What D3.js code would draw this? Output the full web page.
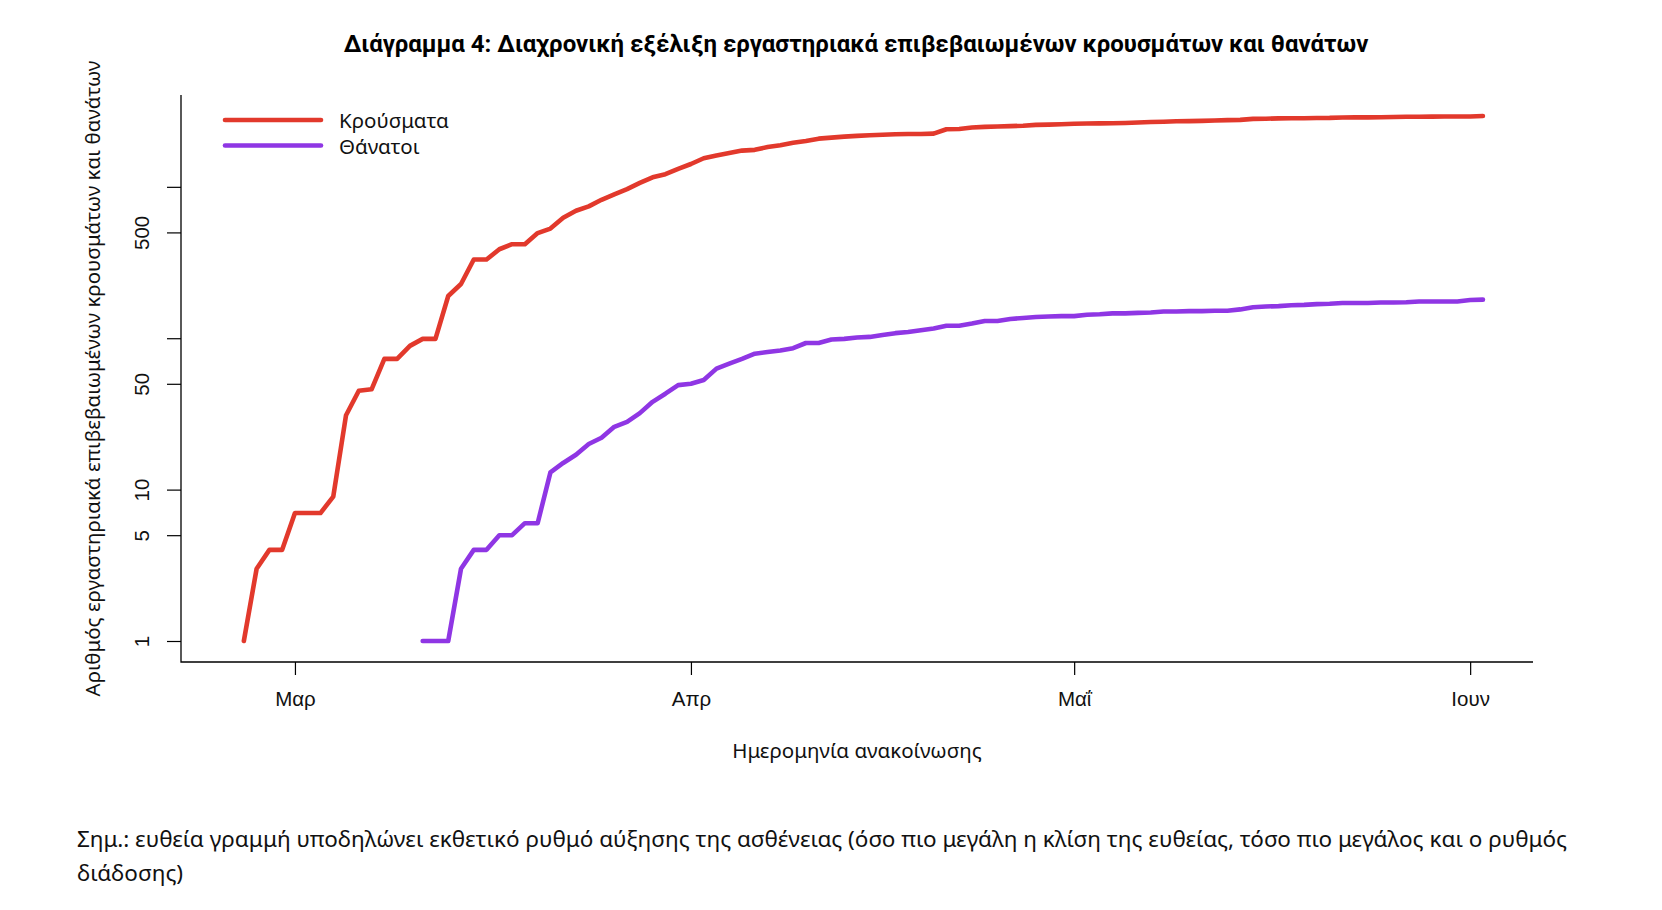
<!DOCTYPE html>
<html lang="el">
<head>
  <meta charset="UTF-8">
  <title>Διάγραμμα 4</title>
  <style>
    html, body {
      margin: 0;
      padding: 0;
      background: #fff;
      overflow: hidden;
    }
    svg {
      display: block;
      font-family: 'Noto Sans', sans-serif;
    }
    .title {
      font-family: Roboto, 'Noto Sans', sans-serif;
      font-weight: bold;
      font-size: 24px;
    }
    .lbl { font-size: 20.5px; fill: #111; }
    .axis path, .axis line { stroke: #000; stroke-width: 1.2; }
  </style>
</head>
<body>
  <svg id="chart" width="1662" height="910"></svg>

  <script src="https://cdn.jsdelivr.net/npm/d3@7"></script>
  <script>
    // daily announcements, starting 25 Feb 2020 (first day has 0 cases)
    const startDate = "2020-02-25";

    const cases = [
      0, 1, 3, 4, 4,
      // Mar
      7, 7, 7, 9, 31, 45, 46, 73, 73, 89, 99, 99, 190, 228, 331, 331,
      387, 418, 418, 495, 530, 624, 695, 743, 821, 892, 966, 1061, 1156, 1212, 1314,
      // Apr
      1415, 1544, 1613, 1673, 1735, 1755, 1832, 1884, 1955, 2011, 2081, 2114, 2145, 2170, 2192,
      2207, 2224, 2235, 2235, 2245, 2401, 2408, 2463, 2490, 2506, 2517, 2534, 2566, 2576, 2591,
      // May
      2612, 2620, 2626, 2632, 2642, 2663, 2678, 2691, 2710, 2716, 2726, 2744, 2760, 2770, 2810, 2819,
      2834, 2836, 2840, 2850, 2853, 2873, 2876, 2878, 2882, 2892, 2903, 2906, 2909, 2915, 2917,
      // Jun
      2918, 2937
    ];

    const deaths = [
      0, 0, 0, 0, 0,
      // Mar
      0, 0, 0, 0, 0, 0, 0, 0, 0, 0, 1, 1, 1, 3, 4, 4,
      5, 5, 6, 6, 13, 15, 17, 20, 22, 26, 28, 32, 38, 43, 49,
      // Apr
      50, 53, 63, 68, 73, 79, 81, 83, 86, 93, 93, 98, 99, 101, 102,
      105, 108, 110, 113, 116, 121, 121, 125, 130, 130, 134, 136, 138, 139, 140,
      // May
      140, 143, 144, 146, 146, 147, 148, 150, 150, 151, 151, 152, 152, 155, 160, 162,
      163, 165, 166, 168, 169, 171, 171, 171, 172, 172, 173, 175, 175, 175, 175,
      // Jun
      179, 180
    ];

    const seriesNames = ["Κρούσματα", "Θάνατοι"];
    const seriesColors = ["#e2392c", "#8f36e4"];

    const monthTicks = ["2020-03-01", "2020-04-01", "2020-05-01", "2020-06-01"];
    const monthLabels = ["Μαρ", "Απρ", "Μαΐ", "Ιουν"];
    const yTicks = [1, 5, 10, 50, 100, 500, 1000];
    const yLabelled = [1, 5, 10, 50, 500];

    const titleText = "Διάγραμμα 4: Διαχρονική εξέλιξη εργαστηριακά επιβεβαιωμένων κρουσμάτων και θανάτων";
    const xTitle = "Ημερομηνία ανακοίνωσης";
    const yTitle = "Αριθμός εργαστηριακά επιβεβαιωμένων κρουσμάτων και θανάτων";
    const note = [
      "Σημ.: ευθεία γραμμή υποδηλώνει εκθετικό ρυθμό αύξησης της ασθένειας (όσο πιο μεγάλη η κλίση της ευθείας, τόσο πιο μεγάλος και ο ρυθμός",
      "διάδοσης)"
    ];

    const W = 1662, H = 910;
    const margin = { top: 95, right: 129, bottom: 248, left: 181 };

    const parse = d3.timeParse("%Y-%m-%d");
    const t0 = parse(startDate);
    const dates = cases.map((_, i) => d3.timeDay.offset(t0, i));

    const svg = d3.select("#chart");

    // R style 4% padding on each side
    const tExt = d3.extent(dates);
    const tPad = (tExt[1] - tExt[0]) * 0.04;
    const x = d3.scaleTime()
      .domain([new Date(+tExt[0] - tPad), new Date(+tExt[1] + tPad)])
      .range([margin.left, W - margin.right]);

    const lmin = 0, lmax = Math.log10(d3.max(cases));
    const lpad = (lmax - lmin) * 0.04;
    const y = d3.scaleLog()
      .domain([Math.pow(10, lmin - lpad), Math.pow(10, lmax + lpad)])
      .range([H - margin.bottom, margin.top]);

    // box (L shape)
    svg.append("path")
      .attr("d", `M${margin.left},${margin.top}V${H - margin.bottom}H${W - margin.right}`)
      .attr("fill", "none")
      .attr("stroke", "#000")
      .attr("stroke-width", 1.3);

    // x axis
    const xAxis = svg.append("g")
      .attr("class", "axis")
      .attr("transform", `translate(0,${H - margin.bottom})`)
      .call(d3.axisBottom(x)
        .tickValues(monthTicks.map(parse))
        .tickSize(13)
        .tickFormat((d, i) => monthLabels[i]));
    xAxis.select(".domain").remove();
    xAxis.selectAll("text")
      .attr("class", "lbl")
      .attr("y", 37)
      .attr("dy", "0.35em");

    // y axis, labels rotated like R
    const yAxis = svg.append("g")
      .attr("class", "axis")
      .attr("transform", `translate(${margin.left},0)`)
      .call(d3.axisLeft(y)
        .tickValues(yTicks)
        .tickSize(14)
        .tickFormat(d => yLabelled.includes(d) ? d : ""));
    yAxis.select(".domain").remove();
    yAxis.selectAll("text")
      .attr("class", "lbl")
      .attr("x", null)
      .attr("dy", null)
      .attr("text-anchor", "middle")
      .attr("dominant-baseline", "central")
      .attr("transform", "translate(-40,0) rotate(-90)");

    // lines
    const series = [cases, deaths];
    const line = d3.line()
      .defined(d => d.v > 0)
      .x(d => x(d.date))
      .y(d => y(d.v));

    series.forEach((vals, k) => {
      svg.append("path")
        .datum(vals.map((v, i) => ({ date: dates[i], v: v })))
        .attr("fill", "none")
        .attr("stroke", seriesColors[k])
        .attr("stroke-width", 4.6)
        .attr("stroke-linejoin", "round")
        .attr("stroke-linecap", "round")
        .attr("d", line);
    });

    // legend
    const leg = svg.append("g");
    seriesNames.forEach((name, k) => {
      const ly = 120 + k * 25.5;
      leg.append("line")
        .attr("x1", 225).attr("x2", 321)
        .attr("y1", ly).attr("y2", ly)
        .attr("stroke", seriesColors[k])
        .attr("stroke-width", 4.6)
        .attr("stroke-linecap", "round");
      leg.append("text")
        .attr("class", "lbl")
        .attr("x", 339)
        .attr("y", ly)
        .attr("dominant-baseline", "central")
        .text(name);
    });

    // titles
    svg.append("text")
      .attr("class", "title")
      .attr("x", 856).attr("y", 44)
      .attr("text-anchor", "middle")
      .attr("dominant-baseline", "central")
      .text(titleText);

    svg.append("text")
      .attr("class", "lbl")
      .attr("x", (margin.left + W - margin.right) / 2)
      .attr("y", 750)
      .attr("text-anchor", "middle")
      .attr("dominant-baseline", "central")
      .text(xTitle);

    svg.append("text")
      .attr("class", "lbl")
      .attr("transform", `translate(92,${(margin.top + H - margin.bottom) / 2}) rotate(-90)`)
      .attr("text-anchor", "middle")
      .attr("dominant-baseline", "central")
      .text(yTitle);

    note.forEach((t, i) => {
      svg.append("text")
        .attr("class", "lbl")
        .attr("x", 77)
        .attr("y", 838 + i * 34)
        .attr("dominant-baseline", "central")
        .style("font-size", "22.5px")
        .text(t);
    });
  </script>
</body>
</html>
